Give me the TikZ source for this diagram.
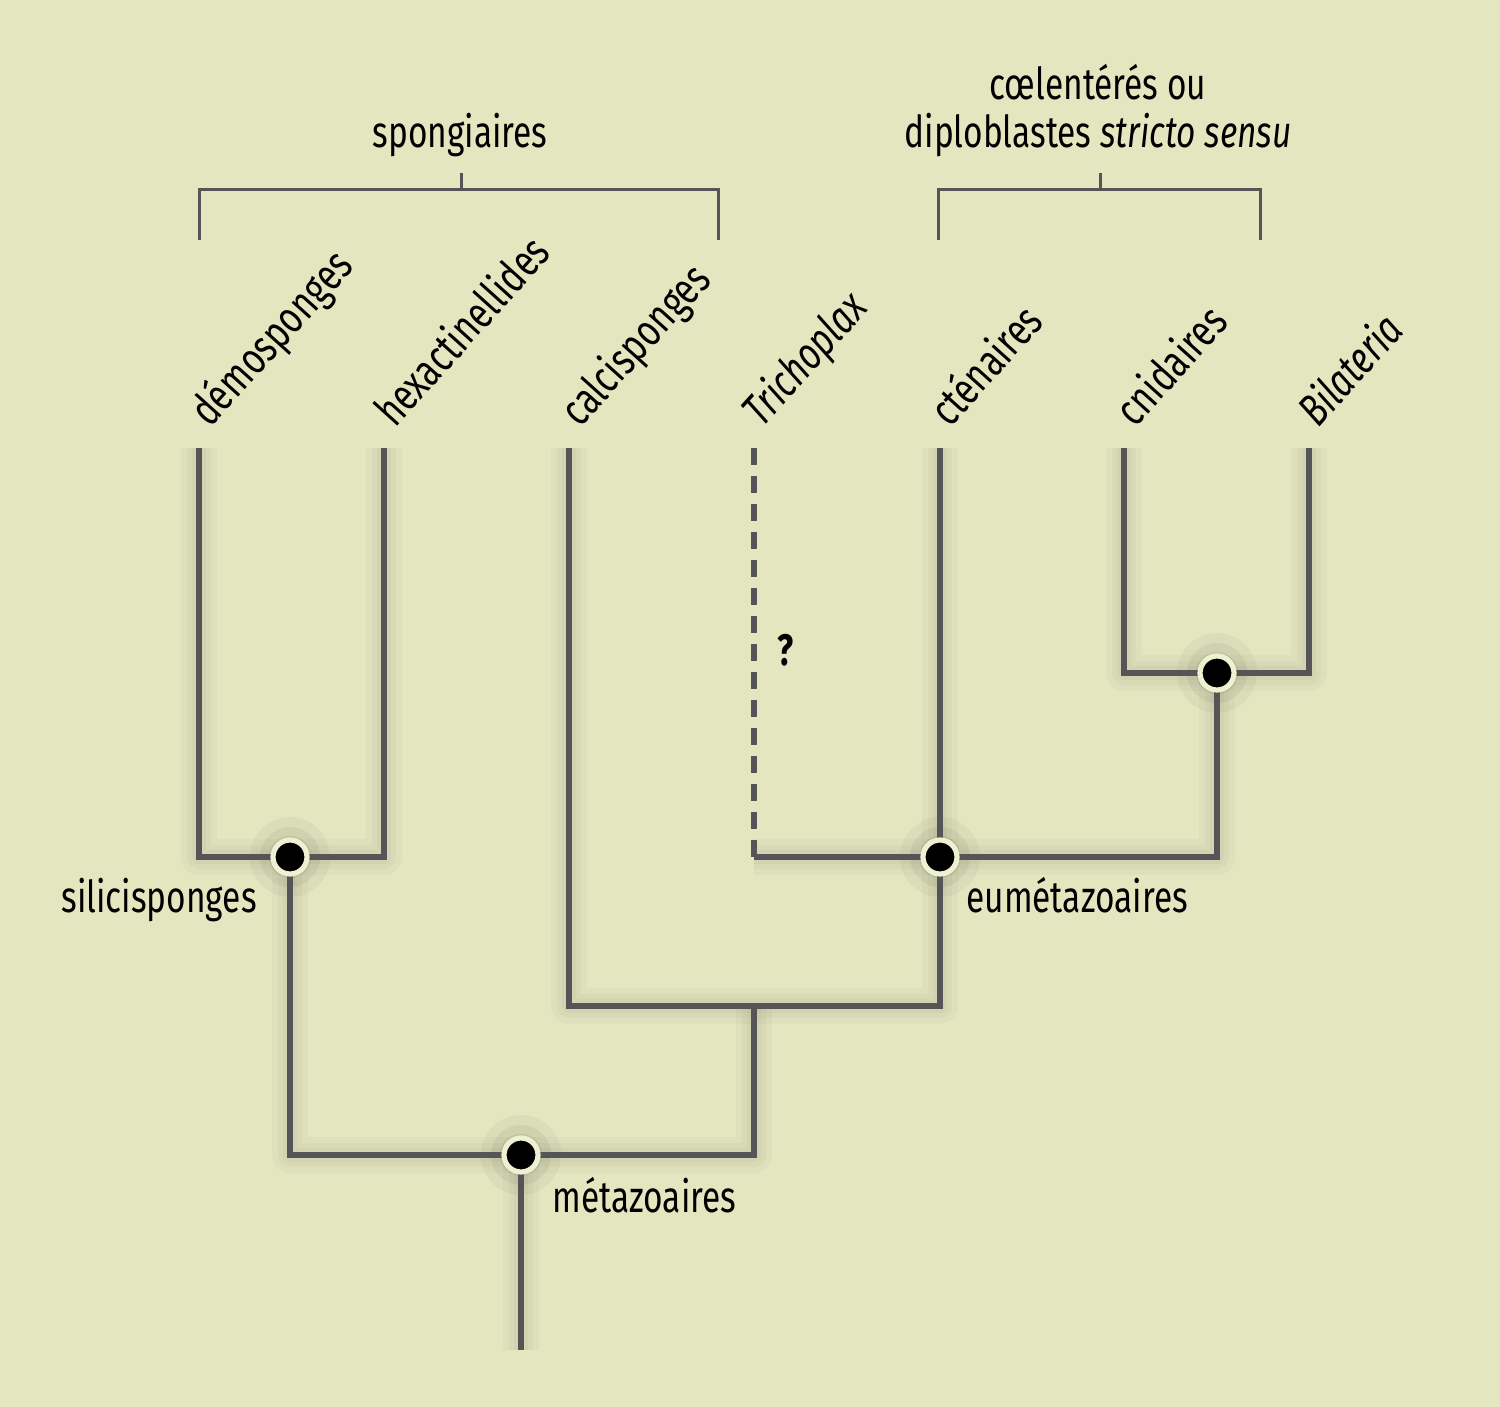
\documentclass[tikz,border=0pt]{standalone}
\usepackage{fontspec}
\setmainfont[FakeStretch=0.76]{Fira Sans}
\usetikzlibrary{calc}
\definecolor{bgc}{HTML}{E4E6C0}
\definecolor{linec}{HTML}{555558}
\definecolor{ringc}{HTML}{EEF0D2}
\tikzset{
  branch/.style={draw=linec, line width=3pt, line join=miter},
  brace/.style={draw=linec, line width=1.5pt},
  taxon/.style={anchor=base west, rotate=48, font=\fontsize{22.5}{26}\selectfont, inner sep=0pt},
  clade/.style={font=\fontsize{22}{26}\selectfont, inner sep=0pt},
  sh/.style={line width=#1, draw=black, opacity=0.025, line join=round, line cap=butt},
  knot/.style={circle, fill=black, draw=ringc, line width=2.6pt, minimum size=17pt, inner sep=0pt},
}
\newcommand\treeedges[1]{%
  \draw[#1] (d1) -- (d0) -- (h0) -- (h1);
  \draw[#1] (sil) -- (s0) -- (k1) -- (k0);
  \draw[#1] (c1) -- (c0) -- (k) -- (eum) -- (ct1);
  \draw[#1] (t0) -- (eum) -- (e0) -- (cb);
  \draw[#1] (cn1) -- (cn0) -- (b0) -- (b1);
  \draw[#1] (met) -- (root);
}
\begin{document}
\begin{tikzpicture}[x=0.5pt, y=-0.5pt]
\fill[bgc] (0,0) rectangle (1500,1407);
\useasboundingbox (0,0) rectangle (1500,1407);
% coordinates
\coordinate (d1) at (199,448);  \coordinate (d0) at (199,857);
\coordinate (h1) at (384,448);  \coordinate (h0) at (384,857);
\coordinate (sil) at (290,857); \coordinate (s0) at (290,1155);
\coordinate (c1) at (569,448);  \coordinate (c0) at (569,1006);
\coordinate (t1) at (754,448);  \coordinate (t0) at (754,857);
\coordinate (eum) at (940,857); \coordinate (ct1) at (940,448);
\coordinate (cn1) at (1124,448); \coordinate (cn0) at (1124,673);
\coordinate (b1) at (1309,448); \coordinate (b0) at (1309,673);
\coordinate (cb) at (1217,673); \coordinate (e0) at (1217,857);
\coordinate (k) at (940,1006);  \coordinate (k0) at (754,1006);
\coordinate (k1) at (754,1155); \coordinate (met) at (521,1155);
\coordinate (root) at (521,1350);
% soft shadows
\begin{scope}[shift={(14,16)}]
  \treeedges{sh=18pt}
  \treeedges{sh=12pt}
  \treeedges{sh=7pt}
  \treeedges{sh=3pt}
  \foreach \p in {sil,eum,cb,met}{
    \fill[black, opacity=0.035] (\p) circle (40);
    \fill[black, opacity=0.05] (\p) circle (30);
    \fill[black, opacity=0.07] (\p) circle (21);
  }
\end{scope}
% tree
\treeedges{branch}
\draw[branch, dash pattern=on 8.5pt off 5.5pt] (t1) -- (t0);
\foreach \p/\n in {sil/nsil,eum/neum,cb/ncb,met/nmet}{
  \node[knot] (\n) at (\p) {};
}
% taxa
\node[taxon] (la) at (210,429) {démosponges};
\node[taxon] (lb) at (395,429) {hexactinellides};
\node[taxon] (lc) at (580,429) {calcisponges};
\node[taxon] (ld) at (762,429) {\itshape Trichoplax};
\node[taxon] (le) at (950,429) {cténaires};
\node[taxon] (lf) at (1135,429) {cnidaires};
\node[taxon] (lg) at (1318,429) {\itshape Bilateria};
% clade names
\node[clade, anchor=base east] (lsil) at (257,912) {silicisponges};
\node[clade, anchor=base west] (leum) at (966,912) {eumétazoaires};
\node[clade, anchor=base west] (lmet) at (552,1212) {métazoaires};
\node[clade, anchor=base, font=\fontsize{22}{26}\selectfont\bfseries] (q) at (786,665) {?};
% brackets
\coordinate (sa) at (199,240); \coordinate (sb) at (718,240);
\coordinate (sm) at (461,190); \coordinate (st) at (461,173);
\draw[brace] (sa) |- (sm) -| (sb);
\draw[brace] (sm) -- (st);
\node[clade, anchor=base] (lspo) at (460,148) {spongiaires};
\coordinate (ca) at (938,240); \coordinate (cbb) at (1260,240);
\coordinate (cm) at (1100,190); \coordinate (ct) at (1100,173);
\draw[brace] (ca) |- (cm) -| (cbb);
\draw[brace] (cm) -- (ct);
\node[clade, anchor=base] (lcoe) at (1098,100) {cœlentérés ou};
\node[clade, anchor=base] (ldip) at (1098,148) {diploblastes \itshape stricto sensu};
\end{tikzpicture}
\end{document}
